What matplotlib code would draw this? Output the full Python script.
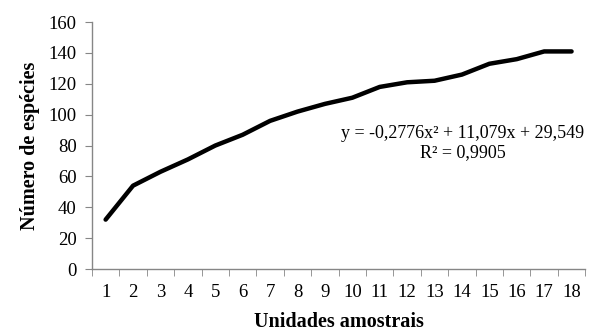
import matplotlib.pyplot as plt
import numpy as np

# Dados da curva de acumulação de espécies
unidades = np.arange(1, 19)
especies = [32, 54, 63, 71, 80, 87, 96, 102, 107, 111, 118, 121, 122, 126, 133, 136, 141, 141]
y_ticks = [0, 20, 40, 60, 80, 100, 120, 140, 160]
equacao = 'y = -0,2776x² + 11,079x + 29,549\nR² = 0,9905'

plt.rcParams['font.family'] = ['Liberation Serif', 'DejaVu Serif']

fig = plt.figure(figsize=(5.93, 3.35), dpi=100)
ax = fig.add_axes([0.155, 0.197, 0.832, 0.737])

ax.plot(unidades, especies, color='black', linewidth=3.2, solid_capstyle='round', solid_joinstyle='round')

ax.set_xlim(0.5, 18.5)
ax.set_ylim(0, 160)
ax.set_yticks(y_ticks)
ax.set_xticks(unidades)
ax.set_xticks(np.arange(0.5, 19, 1), minor=True)
ax.tick_params(axis='x', which='major', length=0, labelsize=13.5, pad=11)
ax.tick_params(axis='x', which='minor', length=5, color='#868686', direction='out')
ax.tick_params(axis='y', length=5, color='#868686', labelsize=13.5, pad=6)

for s in ['top', 'right']:
    ax.spines[s].set_visible(False)
for s in ['left', 'bottom']:
    ax.spines[s].set_color('#868686')
    ax.spines[s].set_linewidth(1)

ax.set_xlabel('Unidades amostrais', fontsize=14.5, fontweight='bold', labelpad=8)
ax.set_ylabel('Número de espécies', fontsize=14.5, fontweight='bold', labelpad=6)

ax.text(14.04, 81.5, equacao, ha='center', va='center', fontsize=13, linespacing=1.15)

fig.savefig('out.png', dpi=100)
